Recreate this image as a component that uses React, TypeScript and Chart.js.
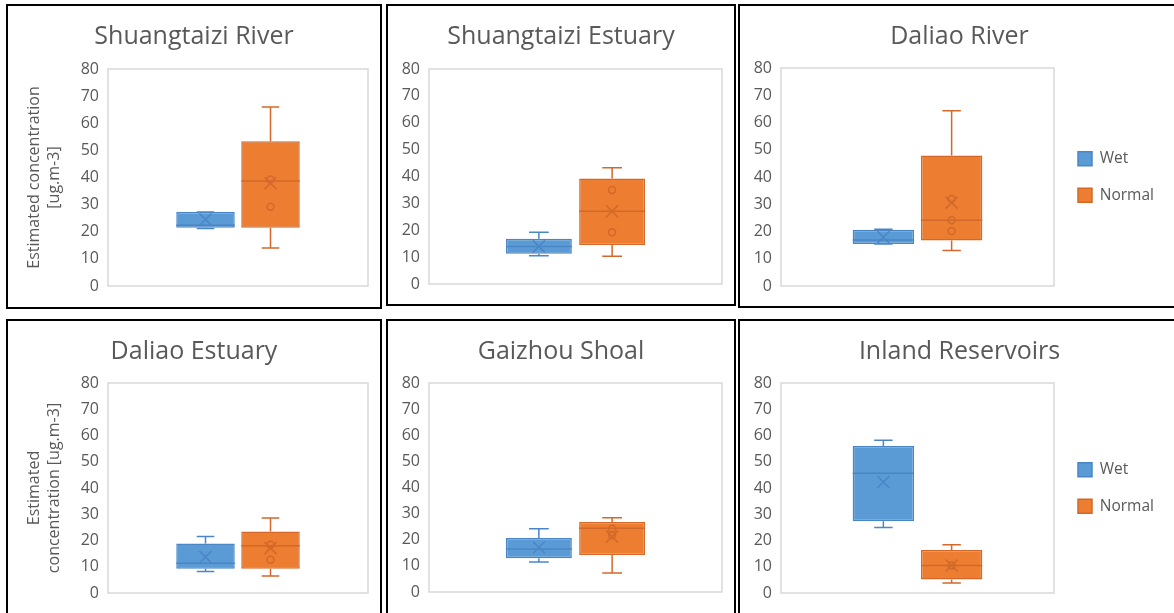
import React, { useEffect, useRef } from 'react';
import { Chart, registerables } from 'chart.js';

Chart.register(...registerables);

// ---------- data ----------
const panelTitles = [
  'Shuangtaizi River',
  'Shuangtaizi Estuary',
  'Daliao River',
  'Daliao Estuary',
  'Gaizhou Shoal',
  'Inland Reservoirs',
];
const seriesNames = ['Wet', 'Normal'];
const categoryLabels = [''];
const yAxisMin = 0;
const yAxisMax = 80;
const yAxisStep = 10;
const yAxisTitles: (string[] | null)[] = [
  ['Estimated concentration', '[ug.m-3]'],
  null,
  null,
  ['Estimated', 'concentration [ug.m-3]'],
  null,
  null,
];
const showLegend = [false, false, true, false, false, true];

// Wet season box statistics (one entry per panel)
const wetMin = [21.2, 10.5, 15.4, 8.2, 11.5, 25.0];
const wetQ1 = [21.5, 11.3, 15.4, 9.2, 12.9, 27.3];
const wetMedian = [22.4, 14.0, 16.9, 11.3, 16.5, 45.6];
const wetQ3 = [27.3, 16.8, 20.6, 18.9, 20.7, 56.0];
const wetMax = [27.3, 19.3, 20.8, 21.5, 24.2, 58.2];
const wetMean = [24.5, 14.0, 17.9, 13.7, 17.0, 42.3];
const wetPoints: number[][] = [[], [], [], [], [], []];

// Normal season box statistics
const normalMin = [14.0, 10.3, 13.0, 6.5, 7.3, 3.8];
const normalQ1 = [21.5, 14.5, 16.7, 9.2, 14.2, 5.1];
const normalMedian = [38.7, 27.1, 24.1, 18.0, 24.4, 10.5];
const normalQ3 = [53.4, 39.3, 47.9, 23.4, 26.8, 16.4];
const normalMax = [66.0, 43.3, 64.3, 28.6, 28.4, 18.4];
const normalMean = [37.9, 27.1, 30.6, 17.1, 21.2, 10.5];
const normalPoints: number[][] = [
  [39.3, 29.2],
  [35.0, 19.3],
  [31.9, 24.1, 20.2],
  [18.4, 12.7],
  [24.2, 21.7],
  [10.5],
];

// ---------- layout & style ----------
const PANELS = [
  { left: 6, top: 4, width: 376, height: 305, chartTop: 63, bottomPad: 21, yWidth: 100, rightWidth: 12, legendWidth: 0 },
  { left: 386, top: 4, width: 350, height: 302, chartTop: 63, bottomPad: 20, yWidth: 41, rightWidth: 12, legendWidth: 0 },
  { left: 738, top: 4, width: 443, height: 304, chartTop: 62, bottomPad: 20, yWidth: 41, rightWidth: 3, legendWidth: 122 },
  { left: 6, top: 319, width: 376, height: 300, chartTop: 62, bottomPad: 24, yWidth: 100, rightWidth: 12, legendWidth: 0 },
  { left: 386, top: 319, width: 350, height: 300, chartTop: 62, bottomPad: 25, yWidth: 41, rightWidth: 12, legendWidth: 0 },
  { left: 738, top: 319, width: 443, height: 300, chartTop: 62, bottomPad: 24, yWidth: 41, rightWidth: 3, legendWidth: 122 },
];

const FONT = '"Open Sans", "Liberation Sans", Arial, sans-serif';
const TEXT = '#595959';
const PLOT_BORDER = '#D9D9D9';
const WET_FILL = '#5B9BD5';
const WET_LINE = '#4A86C6';
const NORMAL_FILL = '#ED7D31';
const NORMAL_LINE = '#D2692A';
const TITLE_SIZE = 25;
const TITLE_LH = 1.2;
const TITLE_PAD_TOP = 16;

const boxPlugin = {
  id: 'boxDetails',
  beforeLayout(chart: any, _args: any, opts: any) {
    const lg = chart.legend;
    if (lg && opts && opts.legendWidth && !lg.__patched) {
      const orig = lg.fit;
      const w = opts.legendWidth;
      lg.fit = function () {
        orig.call(this);
        if (this.options.display) this.width = w;
      };
      lg.__patched = true;
    }
  },
  beforeDatasetsDraw(chart: any) {
    const { ctx, chartArea: a } = chart;
    ctx.save();
    ctx.strokeStyle = PLOT_BORDER;
    ctx.lineWidth = 1.5;
    ctx.strokeRect(a.left, a.top, a.right - a.left, a.bottom - a.top);
    ctx.restore();
  },
  afterDatasetsDraw(chart: any) {
    const ctx = chart.ctx;
    const ys = chart.scales.y;
    chart.data.datasets.forEach((ds: any, di: number) => {
      const meta = chart.getDatasetMeta(di);
      const bar: any = meta.data[0];
      if (!bar) return;
      const s = ds.stats;
      const cx = bar.x;
      const w = bar.width;
      const py = (v: number) => ys.getPixelForValue(v);
      const cap = w * 0.3;
      ctx.save();
      ctx.strokeStyle = ds.lineColor;
      ctx.lineWidth = 1.5;
      ctx.beginPath();
      ctx.moveTo(cx, py(s.q3));
      ctx.lineTo(cx, py(s.max));
      ctx.moveTo(cx - cap / 2, py(s.max));
      ctx.lineTo(cx + cap / 2, py(s.max));
      ctx.moveTo(cx, py(s.q1));
      ctx.lineTo(cx, py(s.min));
      ctx.moveTo(cx - cap / 2, py(s.min));
      ctx.lineTo(cx + cap / 2, py(s.min));
      ctx.moveTo(cx - w / 2, py(s.median));
      ctx.lineTo(cx + w / 2, py(s.median));
      ctx.stroke();
      const m = py(s.mean);
      const r = 6;
      ctx.beginPath();
      ctx.moveTo(cx - r, m - r);
      ctx.lineTo(cx + r, m + r);
      ctx.moveTo(cx + r, m - r);
      ctx.lineTo(cx - r, m + r);
      ctx.stroke();
      s.points.forEach((v: number) => {
        ctx.beginPath();
        ctx.arc(cx, py(v), 3.5, 0, Math.PI * 2);
        ctx.stroke();
      });
      ctx.restore();
    });
  },
};

function Panel({ index }: { index: number }) {
  const ref = useRef<HTMLCanvasElement | null>(null);
  const p = PANELS[index];

  useEffect(() => {
    if (!ref.current) return;
    const yTitle = yAxisTitles[index];
    const titleBottom = p.chartTop - TITLE_PAD_TOP - TITLE_SIZE * TITLE_LH;
    const chart = new Chart(ref.current, {
      type: 'bar',
      data: {
        labels: categoryLabels,
        datasets: [
          {
            label: seriesNames[0],
            data: [[wetQ1[index], wetQ3[index]]] as any,
            backgroundColor: WET_FILL,
            borderColor: WET_LINE,
            borderWidth: 1.5,
            borderSkipped: false,
            categoryPercentage: 0.5,
            barPercentage: 0.9,
            stats: {
              min: wetMin[index], q1: wetQ1[index], median: wetMedian[index],
              q3: wetQ3[index], max: wetMax[index], mean: wetMean[index], points: wetPoints[index],
            },
            lineColor: WET_LINE,
          } as any,
          {
            label: seriesNames[1],
            data: [[normalQ1[index], normalQ3[index]]] as any,
            backgroundColor: NORMAL_FILL,
            borderColor: NORMAL_LINE,
            borderWidth: 1.5,
            borderSkipped: false,
            categoryPercentage: 0.5,
            barPercentage: 0.9,
            stats: {
              min: normalMin[index], q1: normalQ1[index], median: normalMedian[index],
              q3: normalQ3[index], max: normalMax[index], mean: normalMean[index], points: normalPoints[index],
            },
            lineColor: NORMAL_LINE,
          } as any,
        ],
      },
      options: {
        responsive: false,
        animation: false,
        events: [],
        layout: { padding: { left: 0, top: 0, right: 0, bottom: p.bottomPad } },
        plugins: {
          tooltip: { enabled: false },
          title: {
            display: true,
            text: panelTitles[index],
            color: TEXT,
            font: { family: FONT, size: TITLE_SIZE, weight: 'normal', lineHeight: TITLE_LH },
            padding: { top: TITLE_PAD_TOP, bottom: titleBottom },
          },
          legend: {
            display: showLegend[index],
            position: 'right',
            align: 'center',
            fullSize: false,
            labels: {
              boxWidth: 14,
              boxHeight: 14,
              padding: 21,
              color: TEXT,
              font: { family: FONT, size: 15.5 },
            },
          },
          boxDetails: { legendWidth: p.legendWidth },
        } as any,
        scales: {
          x: { display: false },
          y: {
            type: 'linear',
            position: 'left',
            min: yAxisMin,
            max: yAxisMax,
            ticks: {
              stepSize: yAxisStep,
              color: TEXT,
              padding: 9,
              font: { family: FONT, size: 16 },
            },
            grid: { display: false, drawTicks: false },
            border: { display: false },
            title: {
              display: !!yTitle,
              text: yTitle || '',
              color: TEXT,
              font: { family: FONT, size: 16, lineHeight: 1.25 },
              padding: { top: 16, bottom: 0 },
            },
            afterFit: (scale: any) => {
              scale.width = p.yWidth;
            },
          },
          yRight: {
            type: 'linear',
            position: 'right',
            ticks: { display: false },
            grid: { display: false, drawTicks: false },
            border: { display: false },
            afterFit: (scale: any) => {
              scale.width = p.rightWidth;
            },
          },
        },
      } as any,
      plugins: [boxPlugin as any],
    });
    return () => chart.destroy();
  }, [index]);

  return (
    <div
      style={{
        position: 'absolute',
        left: p.left,
        top: p.top,
        width: p.width,
        height: p.height,
        border: '2px solid #000',
        boxSizing: 'border-box',
        background: '#fff',
      }}
    >
      <canvas ref={ref} width={p.width - 4} height={p.height - 4} style={{ display: 'block' }} />
    </div>
  );
}

export default function App() {
  return (
    <div
      style={{
        position: 'absolute',
        left: 0,
        top: 0,
        width: 1174,
        height: 613,
        overflow: 'hidden',
        background: '#fff',
      }}
    >
      {panelTitles.map((_, i) => (
        <Panel key={i} index={i} />
      ))}
    </div>
  );
}
